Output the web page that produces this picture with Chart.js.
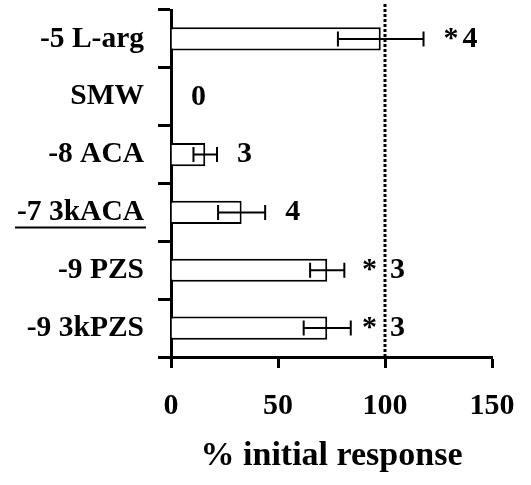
<!DOCTYPE html>
<html><head><meta charset="utf-8">
<script src="https://cdn.jsdelivr.net/npm/chart.js@4"></script>
<style>html,body{margin:0;padding:0;background:#fff}</style>
</head><body>
<canvas id="c" width="531" height="485"></canvas>
<script>
// ---- data ----
const categories = ['-5 L-arg', 'SMW', '-8 ACA', '-7 3kACA', '-9 PZS', '-9 3kPZS'];
const meanValues = [98, 0, 16, 33, 73, 73];
const semValues = [20, 0, 5.5, 11, 8, 11];
const significance = ['*', '', '', '', '*', '*'];
const nValues = [4, 0, 3, 4, 3, 3];
const underlined = [false, false, false, true, false, false];
const xTicks = [0, 50, 100, 150];
const referenceValue = 100;
const axisTitle = '% initial response';

const FONT = '"Liberation Serif", "Times New Roman", serif';
const Y_TICK_LEN = 13, Y_PAD = 14, Y_FONT = 29.5;

const overlay = {
  id: 'overlay',
  afterDatasetsDraw(chart) {
    const ctx = chart.ctx, xs = chart.scales.x, area = chart.chartArea;
    const meta = chart.getDatasetMeta(0);
    ctx.save();
    // dotted reference line
    const rx = xs.getPixelForValue(referenceValue);
    ctx.strokeStyle = '#000';
    ctx.lineWidth = 3;
    ctx.setLineDash([3, 2]);
    ctx.beginPath();
    ctx.moveTo(rx, area.top - 6);
    ctx.lineTo(rx, area.bottom);
    ctx.stroke();
    ctx.setLineDash([]);
    // error bars
    ctx.lineWidth = 2;
    meta.data.forEach((bar, i) => {
      if (!semValues[i]) return;
      const yc = bar.y;
      const x0 = xs.getPixelForValue(meanValues[i] - semValues[i]);
      const x1 = xs.getPixelForValue(meanValues[i] + semValues[i]);
      ctx.beginPath();
      ctx.moveTo(x0, yc); ctx.lineTo(x1, yc);
      ctx.moveTo(x0, yc - 7.5); ctx.lineTo(x0, yc + 7.5);
      ctx.moveTo(x1, yc - 7.5); ctx.lineTo(x1, yc + 7.5);
      ctx.stroke();
    });
    // annotations: significance + n
    ctx.fillStyle = '#000';
    ctx.font = 'bold 30px ' + FONT;
    ctx.textBaseline = 'middle';
    ctx.textAlign = 'left';
    meta.data.forEach((bar, i) => {
      const end = xs.getPixelForValue(meanValues[i] + semValues[i]);
      let px = end + 20;
      if (significance[i]) {
        if (px < rx) px = rx - 23;
        ctx.fillText(significance[i], px, bar.y);
        px = Math.max(px + 19, rx + 5);
      }
      ctx.fillText(String(nValues[i]), px, bar.y);
    });
    ctx.restore();
  },
  afterDraw(chart) {
    const ctx = chart.ctx, ys = chart.scales.y;
    ctx.save();
    ctx.font = 'bold ' + Y_FONT + 'px ' + FONT;
    ctx.strokeStyle = '#000';
    ctx.lineWidth = 2;
    categories.forEach((c, i) => {
      if (!underlined[i]) return;
      const right = ys.right - Y_TICK_LEN - Y_PAD;
      const w = ctx.measureText(c).width;
      const yc = ys.getPixelForValue(i);
      ctx.beginPath();
      ctx.moveTo(right - w - 2, yc + 15);
      ctx.lineTo(right + 2, yc + 15);
      ctx.stroke();
    });
    ctx.restore();
  }
};

new Chart(document.getElementById('c'), {
  type: 'bar',
  data: {
    labels: categories,
    datasets: [{
      data: meanValues,
      backgroundColor: '#fff',
      borderColor: '#000',
      borderWidth: 2,
      categoryPercentage: 0.4,
      barPercentage: 1
    }]
  },
  options: {
    indexAxis: 'y',
    responsive: false,
    animation: false,
    events: [],
    layout: { padding: { top: 10, right: 39, left: 0, bottom: 0 } },
    plugins: { legend: { display: false }, tooltip: { enabled: false } },
    scales: {
      x: {
        min: 0, max: 150,
        afterBuildTicks(s) { s.ticks = xTicks.map(v => ({ value: v })); },
        afterFit(s) { s.height = 128; s.paddingLeft = 0; s.paddingRight = 0; },
        border: { display: true, color: '#000', width: 3 },
        grid: { drawOnChartArea: false, drawTicks: true, tickLength: 11, tickWidth: 3, tickColor: '#000' },
        ticks: { color: '#000', padding: 20, font: { family: FONT, size: 30, weight: 'bold' }, maxRotation: 0 },
        title: { display: true, text: axisTitle, color: '#000', padding: { top: 0, bottom: 8 }, font: { family: FONT, size: 34, weight: 'bold' } }
      },
      y: {
        afterFit(s) { s.width = 171; s.paddingTop = 0; s.paddingBottom = 0; },
        border: { display: true, color: '#000', width: 3 },
        grid: { offset: true, drawOnChartArea: false, drawTicks: true, tickLength: Y_TICK_LEN, tickWidth: 3, tickColor: '#000' },
        ticks: { color: '#000', padding: Y_PAD, font: { family: FONT, size: Y_FONT, weight: 'bold' } }
      }
    }
  },
  plugins: [overlay]
});
</script>
</body></html>
